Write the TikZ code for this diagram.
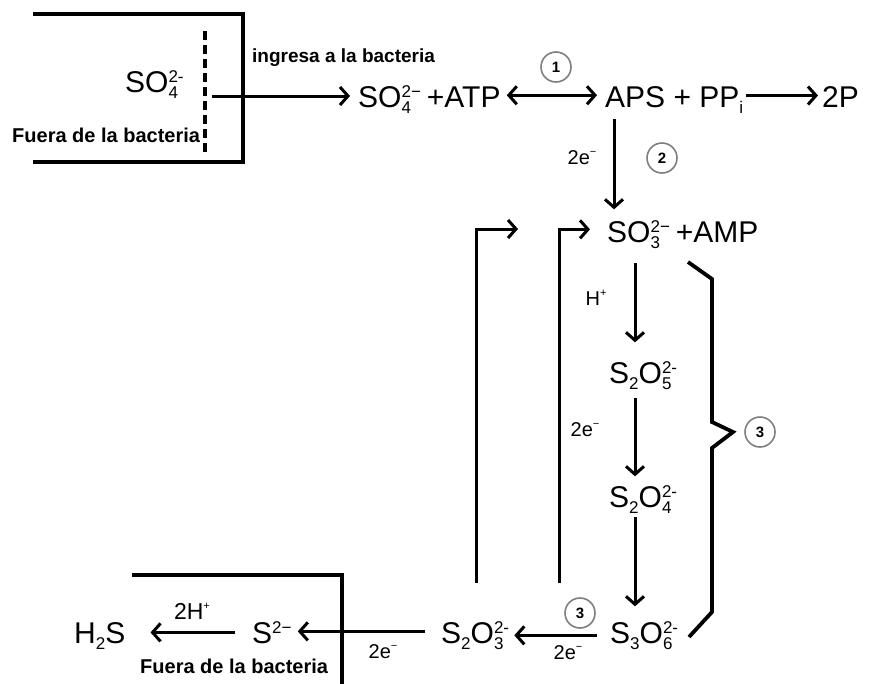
\documentclass[tikz,border=0pt]{standalone}
\usepackage{fontspec}
\setmainfont{Liberation Sans}
\usetikzlibrary{arrows.meta,calc}
\definecolor{Ink}{HTML}{000000}
\definecolor{Ring}{HTML}{7F7F7F}
\newcommand{\lowr}[1]{\raisebox{-0.2em}{\fontsize{17}{17}\selectfont #1}}
\newcommand{\chemion}[2]{\makebox[0pt][l]{\lowr{#1}}\raisebox{0.32em}{\fontsize{17}{17}\selectfont #2}}
\newcommand{\upsm}[1]{\raisebox{0.45em}{\fontsize{11}{11}\selectfont #1}}
\tikzset{
  chem/.style={font=\fontsize{30}{32}\selectfont, inner sep=0pt, anchor=base west, text=Ink},
  lbl/.style={font=\bfseries\fontsize{20}{22}\selectfont, inner sep=0pt, anchor=base west, text=Ink},
  note/.style={font=\fontsize{20}{22}\selectfont, inner sep=0pt, text=Ink},
  ring/.style={circle, draw=Ring, line width=1.6pt, minimum size=30pt, inner sep=0pt, font=\bfseries\fontsize{15}{15}\selectfont},
  arr/.style={draw=Ink, line width=3pt, -{Straight Barb[length=8pt,width=18pt]}},
  darr/.style={draw=Ink, line width=3pt, {Straight Barb[length=8pt,width=18pt]}-{Straight Barb[length=8pt,width=18pt]}},
  wall/.style={draw=Ink, line width=4pt, line join=miter},
}

\begin{document}
\begin{tikzpicture}[x=1pt,y=-1pt]
  \useasboundingbox (0,0) rectangle (873,683);
  % entrada a la bacteria
  \draw[wall] (33,14) -- (243,14) -- (243,162) -- (33,162);
  \draw[wall, dash pattern=on 9pt off 5pt] (205,31) -- (205,153);
  \node[chem] (so4out) at (125,92) {SO\chemion{4}{2-}};
  \node[lbl] (fuera1) at (12,142) {Fuera de la bacteria};
  \node[lbl, font=\bfseries\fontsize{19}{21}\selectfont] (ingresa) at (252,62) {ingresa a la bacteria};
  \coordinate (gate) at (212,96);

  % fila superior
  \node[chem] (so4atp) at (358,107) {SO\chemion{4}{2−}\hspace{0.2em}+ATP};
  \node[chem] (aps) at (605,107) {APS + PP\lowr{i}};
  \node[chem] (twop) at (822,107) {2P};
  \node[ring] (r1) at (556,67) {1};
  \draw[arr, shorten >=8pt] (gate) -- (gate -| so4atp.west);
  \draw[darr, shorten <=6pt, shorten >=8pt] ([yshift=4pt]so4atp.east) -- ([yshift=4pt]so4atp.east -| aps.west);
  \draw[arr, shorten <=3pt, shorten >=4pt] ([yshift=4pt]aps.east) -- ([yshift=4pt]aps.east -| twop.west);

  % APS a sulfito
  \node[chem] (so3amp) at (607,242) {SO\chemion{3}{2−}\hspace{0.2em}+AMP};
  \node[note] (e2a) at (582,158) {2e\upsm{−}};
  \node[ring] (r2) at (662,158) {2};
  \coordinate (apsdown) at ($(aps.south west)+(9,0)$);
  \draw[arr, shorten <=6pt, shorten >=11pt] (apsdown) -- (apsdown |- so3amp.north);

  % cadena de reduccion
  \coordinate (chain) at (635,0);
  \node[chem] (s2o5) at (609,383) {S\lowr{2}O\chemion{5}{2-}};
  \node[chem] (s2o4) at (609,507) {S\lowr{2}O\chemion{4}{2-}};
  \node[chem] (s3o6) at (610,643) {S\lowr{3}O\chemion{6}{2-}};
  \node[note] (hplus) at (596,298) {H\upsm{+}};
  \node[note] (e2b) at (585,430) {2e\upsm{−}};
  \draw[arr, shorten <=15pt, shorten >=19pt] (so3amp.south -| chain) -- (s2o5.north -| chain);
  \draw[arr, shorten <=9pt, shorten >=9pt] (s2o5.south -| chain) -- (s2o4.north -| chain);
  \draw[arr, shorten <=4pt, shorten >=15pt] (s2o4.south -| chain) -- (s3o6.north -| chain);

  % llave
  \draw[draw=Ink, line width=3.8pt, line join=miter] (688,262) -- (712,279) -- (712,422) -- (733,432) -- (712,448) -- (712,612) -- (689,637);
  \node[ring] (r3) at (760,432) {3};

  % fila inferior
  \node[chem] (s2o3) at (441,643) {S\lowr{2}O\chemion{3}{2-}};
  \node[chem] (s2m) at (252,643) {S\raisebox{0.32em}{\fontsize{17}{17}\selectfont 2−}};
  \node[chem] (h2s) at (74,643) {H\lowr{2}S};
  \node[ring] (r3b) at (580,613) {3};
  \node[note] (e2c) at (568,653) {2e\upsm{−}};
  \node[note] (e2d) at (383,652) {2e\upsm{−}};
  \node[note, font=\fontsize{23}{25}\selectfont] (h2plus) at (192,611) {2H\upsm{+}};
  \draw[arr, shorten <=13pt, shorten >=5pt] (s3o6.west) -- (s3o6.west -| s2o3.east);
  \draw[arr, shorten <=16pt, shorten >=6pt] ([yshift=4pt]s2o3.west) -- ([yshift=4pt]s2o3.west -| s2m.east);
  \draw[arr, shorten <=17pt, shorten >=25pt] (s2m.west) -- (s2m.west -| h2s.east);

  % salida de la bacteria
  \draw[wall] (132,575) -- (342,575) -- (342,686);
  \node[lbl] (fuera2) at (140,673) {Fuera de la bacteria};

  % retornos
  \coordinate (loopA) at (476,583);
  \coordinate (tipA) at (518,229);
  \coordinate (loopB) at (559,583);
  \draw[arr] (loopA) |- (tipA);
  \draw[arr, shorten >=17pt] (loopB) |- ([yshift=5pt]so3amp.west);
\end{tikzpicture}
\end{document}
